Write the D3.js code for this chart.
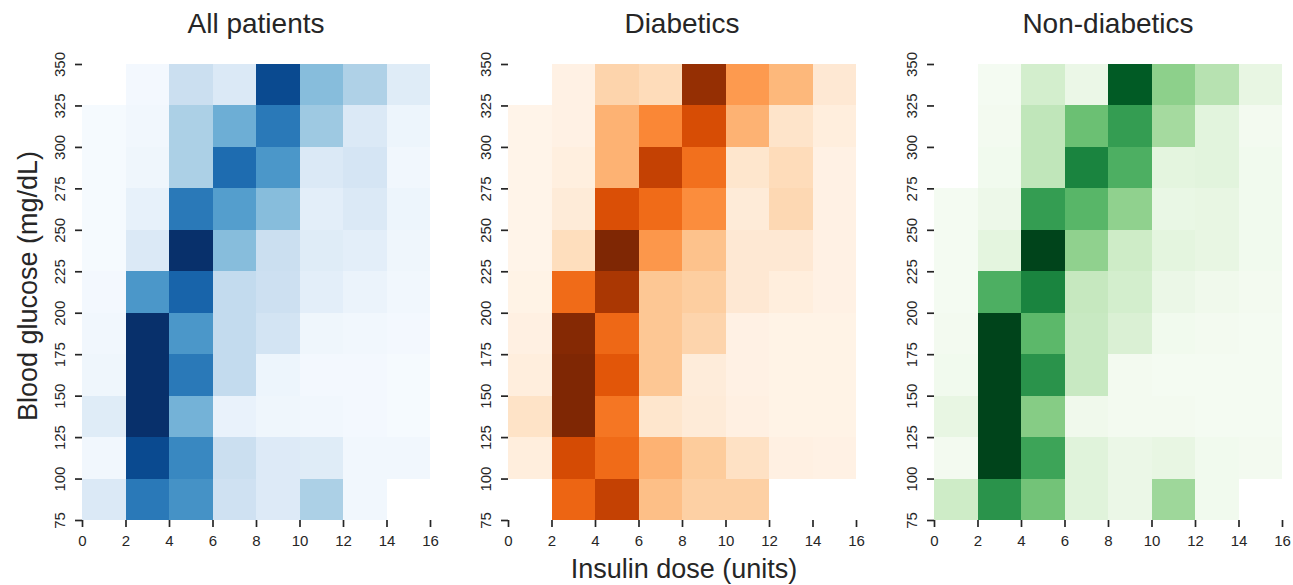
<!DOCTYPE html>
<html>
<head>
<meta charset="utf-8">
<script src="https://cdn.jsdelivr.net/npm/d3@7"></script>
<style>
  body { margin: 0; background: #fff; }
  text { font-family: "Liberation Sans", Arial, sans-serif; fill: #262626; }
  .tick text { font-size: 15px !important; font-family: "Liberation Sans", Arial, sans-serif !important; }
</style>
</head>
<body>
<script>
"use strict";

// bins: insulin dose (lower edge, units) and blood glucose (lower edge, mg/dL)
var doseBins = [0, 2, 4, 6, 8, 10, 12, 14];
var glucoseBins = [325, 300, 275, 250, 225, 200, 175, 150, 125, 100, 75]; // top row first
var xTicks = [0, 2, 4, 6, 8, 10, 12, 14, 16];
var yTicks = [75, 100, 125, 150, 175, 200, 225, 250, 275, 300, 325, 350];

// relative frequency of each cell (scaled 0-1 per panel), rows = glucose bins top->bottom
var allPatients = [
  [null, 0.02, 0.22, 0.14, 0.90, 0.43, 0.32, 0.12],
  [0.01, 0.03, 0.33, 0.50, 0.72, 0.37, 0.14, 0.05],
  [0.01, 0.04, 0.33, 0.77, 0.60, 0.14, 0.17, 0.03],
  [0.01, 0.08, 0.72, 0.57, 0.43, 0.10, 0.14, 0.05],
  [0.01, 0.14, 1.00, 0.43, 0.22, 0.12, 0.10, 0.04],
  [0.02, 0.60, 0.80, 0.25, 0.21, 0.10, 0.06, 0.03],
  [0.03, 1.00, 0.60, 0.25, 0.18, 0.04, 0.03, 0.02],
  [0.04, 1.00, 0.72, 0.25, 0.05, 0.02, 0.02, 0.01],
  [0.12, 1.00, 0.48, 0.07, 0.04, 0.03, 0.02, 0.01],
  [0.03, 0.90, 0.66, 0.22, 0.13, 0.12, 0.03, 0.03],
  [0.14, 0.72, 0.62, 0.20, 0.13, 0.33, 0.03, null]
];

var diabetics = [
  [null, 0.03, 0.22, 0.18, 0.93, 0.45, 0.34, 0.10],
  [0.01, 0.03, 0.36, 0.52, 0.74, 0.36, 0.13, 0.06],
  [0.01, 0.05, 0.36, 0.80, 0.60, 0.12, 0.18, 0.03],
  [0.01, 0.08, 0.73, 0.62, 0.50, 0.08, 0.20, 0.03],
  [0.01, 0.17, 1.00, 0.46, 0.30, 0.10, 0.10, 0.03],
  [0.02, 0.62, 0.87, 0.28, 0.25, 0.10, 0.06, 0.03],
  [0.04, 0.98, 0.63, 0.28, 0.22, 0.03, 0.02, 0.02],
  [0.06, 1.00, 0.70, 0.28, 0.07, 0.03, 0.02, 0.02],
  [0.14, 1.00, 0.58, 0.12, 0.08, 0.04, 0.02, 0.02],
  [0.06, 0.75, 0.62, 0.36, 0.26, 0.15, 0.04, 0.03],
  [null, 0.64, 0.80, 0.31, 0.24, 0.24, null, null]
];

var nonDiabetics = [
  [null, 0.02, 0.20, 0.08, 0.93, 0.43, 0.30, 0.10],
  [null, 0.03, 0.27, 0.52, 0.68, 0.36, 0.13, 0.03],
  [null, 0.04, 0.27, 0.78, 0.60, 0.12, 0.13, 0.04],
  [0.02, 0.07, 0.68, 0.57, 0.42, 0.09, 0.10, 0.04],
  [0.02, 0.12, 1.00, 0.42, 0.22, 0.12, 0.10, 0.04],
  [0.02, 0.60, 0.78, 0.25, 0.20, 0.08, 0.05, 0.03],
  [0.03, 1.00, 0.56, 0.24, 0.17, 0.04, 0.03, 0.02],
  [0.04, 1.00, 0.72, 0.24, 0.03, 0.02, 0.02, 0.02],
  [0.10, 1.00, 0.45, 0.05, 0.03, 0.03, 0.02, 0.02],
  [0.03, 1.00, 0.65, 0.14, 0.08, 0.10, 0.04, 0.03],
  [0.22, 0.72, 0.50, 0.14, 0.08, 0.38, 0.04, null]
];

var titles = ["All patients", "Diabetics", "Non-diabetics"];
var panels = [allPatients, diabetics, nonDiabetics];
var palettes = [d3.interpolateBlues, d3.interpolateOranges, d3.interpolateGreens];

var W = 1293, H = 585;
var panelLeft = [82, 508, 934];
var plotTop = 64, pw = 348, ph = 456;

var svg = d3.select("body").append("svg")
    .attr("width", W)
    .attr("height", H);

var x = d3.scaleLinear().domain([0, 16]).range([0, pw]);
var y = d3.scaleLinear().domain([75, 350]).range([ph, 0]);

panels.forEach(function(grid, p) {
  var color = d3.scaleSequential(palettes[p]).domain([0, 1]);
  var g = svg.append("g")
      .attr("transform", "translate(" + panelLeft[p] + "," + plotTop + ")");

  var cells = [];
  grid.forEach(function(row, r) {
    row.forEach(function(v, c) {
      if (v !== null) cells.push({dose: doseBins[c], glucose: glucoseBins[r], value: v});
    });
  });

  g.selectAll("rect")
      .data(cells)
    .enter().append("rect")
      .attr("x", function(d) { return x(d.dose); })
      .attr("y", function(d) { return y(d.glucose + 25); })
      .attr("width", function(d) { return x(d.dose + 2) - x(d.dose); })
      .attr("height", function(d) { return y(d.glucose) - y(d.glucose + 25); })
      .attr("fill", function(d) { return color(d.value); })
      .attr("shape-rendering", "crispEdges");

  var gx = g.append("g")
      .attr("transform", "translate(0," + ph + ")")
      .call(d3.axisBottom(x).tickValues(xTicks).tickSize(7).tickPadding(8));
  var gy = g.append("g")
      .call(d3.axisLeft(y).tickValues(yTicks).tickSize(7).tickPadding(4));

  [gx, gy].forEach(function(a) {
    a.select(".domain").remove();
    a.selectAll(".tick line").attr("stroke", "#262626").attr("stroke-width", 1.7);
    a.selectAll(".tick text").attr("fill", "#262626");
  });

  // rotated y tick labels
  gy.selectAll(".tick text")
      .attr("x", null).attr("dy", null)
      .attr("text-anchor", "middle")
      .attr("transform", "translate(-17,0) rotate(-90)");

  g.append("text")
      .attr("x", pw / 2)
      .attr("y", 33 - plotTop)
      .attr("text-anchor", "middle")
      .style("font-size", "28px")
      .text(titles[p]);
});

svg.append("text")
    .attr("x", 684)
    .attr("y", 578)
    .attr("text-anchor", "middle")
    .style("font-size", "27px")
    .text("Insulin dose (units)");

svg.append("text")
    .attr("transform", "translate(37,286) rotate(-90)")
    .attr("text-anchor", "middle")
    .style("font-size", "27px")
    .text("Blood glucose (mg/dL)");
</script>
</body>
</html>
